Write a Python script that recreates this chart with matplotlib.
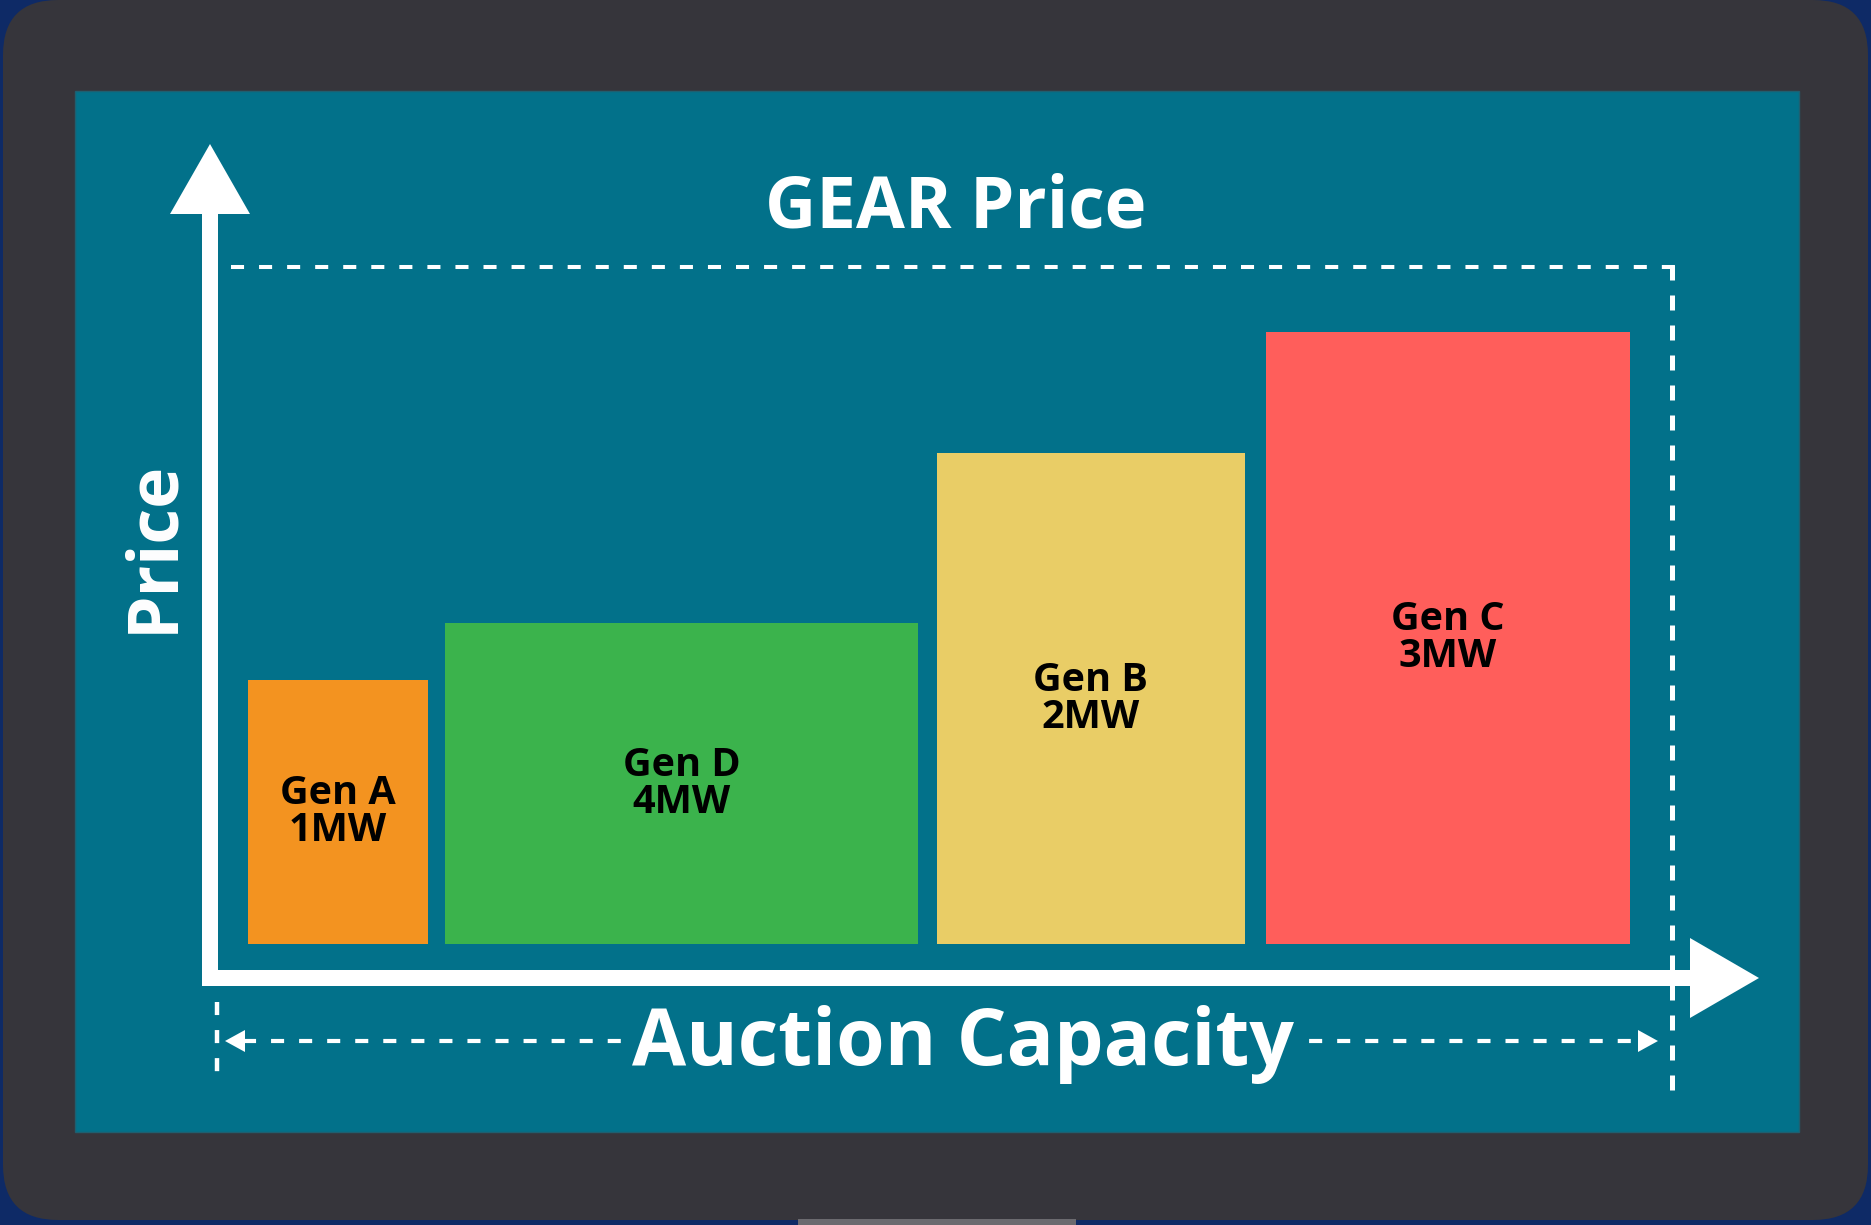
import matplotlib
matplotlib.use("Agg")
import matplotlib.pyplot as plt
from matplotlib.patches import FancyBboxPatch, Rectangle, Polygon

plt.rcParams['lines.scale_dashes'] = False

# ---- data ----
generators = ["Gen A", "Gen D", "Gen B", "Gen C"]
capacities = ["1MW", "4MW", "2MW", "3MW"]
bar_left = [2.6, 16.1, 49.7, 72.2]      # position along auction capacity (0-100)
bar_width = [12.3, 32.3, 21.1, 24.9]
prices = [39.0, 47.4, 72.5, 90.4]       # price (GEAR price = 100)
bar_colors = ["#F39320", "#3BB34C", "#E9CD66", "#FF5E5B"]

title = "GEAR Price"
ylabel = "Price"
xlabel = "Auction Capacity"

W, H = 1871, 1225
FONT = ["Open Sans", "DejaVu Sans"]
TEAL = "#02718A"

fig = plt.figure(figsize=(W / 100, H / 100), dpi=100)
fig.patch.set_facecolor("#0E2A66")

bg = fig.add_axes([0, 0, 1, 1])
bg.set_xlim(0, W)
bg.set_ylim(H, 0)
bg.axis("off")

# device frame
bg.add_patch(FancyBboxPatch((3 + 55, 0 + 55), 1865 - 110, 1220 - 110,
                            boxstyle="round,pad=55", fc="#36353B", ec="none"))
bg.add_patch(Rectangle((798, 1219), 278, 8, fc="#6B6A6F", ec="none"))
# screen
bg.add_patch(Rectangle((75, 91), 1724, 1041, fc=TEAL, ec="#1F5F70", lw=1.0))

# axis arrows
bg.add_patch(Rectangle((202, 212), 16, 774, fc="white", ec="none"))
bg.add_patch(Polygon([(210, 144), (170, 214), (250, 214)], closed=True, fc="white", ec="none"))
bg.add_patch(Rectangle((202, 970), 1490, 16, fc="white", ec="none"))
bg.add_patch(Polygon([(1759, 978), (1690, 938), (1690, 1018)], closed=True, fc="white", ec="none"))

# dashed guides
bg.plot([231, 1675], [267, 267], color="white", lw=2.9, linestyle=(0, (9.4, 10.8)),
        solid_capstyle="butt", dash_capstyle="butt")
bg.plot([1672, 1672], [265, 1095], color="white", lw=3.6, linestyle=(0, (10.8, 10.8)),
        dash_capstyle="butt")
bg.plot([217, 217], [1002, 1080], color="white", lw=3.2, linestyle=(0, (9.4, 10.8)),
        dash_capstyle="butt")
bg.plot([243, 1640], [1041, 1041], color="white", lw=3.0, linestyle=(0, (9.4, 10.8)),
        dash_capstyle="butt")
bg.add_patch(Polygon([(225, 1041), (245, 1030), (245, 1052)], closed=True, fc="white", ec="none"))
bg.add_patch(Polygon([(1658, 1041), (1638, 1030), (1638, 1052)], closed=True, fc="white", ec="none"))

# texts
bg.text(956, 227, title, ha="center", va="baseline", color="white",
        fontsize=51, fontweight="bold", family=FONT)
bg.text(172, 546, ylabel, ha="center", va="baseline", rotation=90, rotation_mode="anchor",
        color="white", fontsize=50, fontweight="bold", family=FONT)
bg.text(963, 1065, xlabel, ha="center", va="baseline", color="white",
        fontsize=56.5, fontweight="bold", family=FONT,
        bbox=dict(boxstyle="square,pad=0.12", fc=TEAL, ec="none"))

# ---- bars in data axes ----
x0, x1, y0, y1 = 210, 1672, 944, 267
ax = fig.add_axes([x0 / W, (H - y0) / H, (x1 - x0) / W, (y0 - y1) / H])
ax.set_xlim(0, 100)
ax.set_ylim(0, 100)
ax.axis("off")
ax.patch.set_alpha(0)

ax.bar(bar_left, prices, width=bar_width, align="edge", color=bar_colors, edgecolor="none")
for l, w, p, g, c in zip(bar_left, bar_width, prices, generators, capacities):
    ax.text(l + w / 2, p / 2, f"{g}\n{c}", ha="center", va="center", color="black",
            fontsize=28.5, fontweight="bold", family=FONT, linespacing=0.93)

fig.savefig("out.png", dpi=100, facecolor=fig.get_facecolor())
